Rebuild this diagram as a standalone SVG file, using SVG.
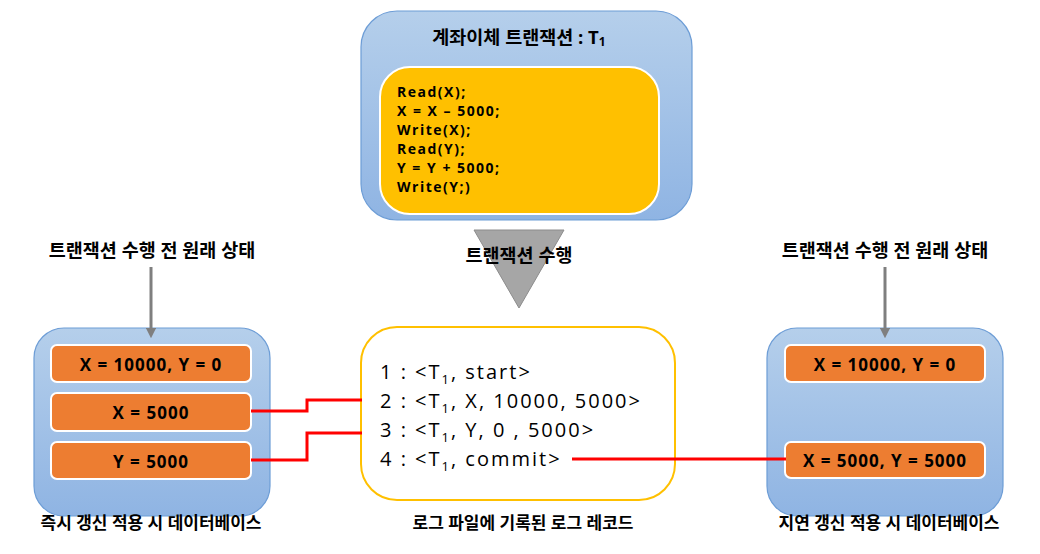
<svg xmlns="http://www.w3.org/2000/svg" width="1040" height="554" viewBox="0 0 1040 554">
<defs>
<linearGradient id="blue" x1="0" y1="0" x2="0" y2="1">
<stop offset="0" stop-color="#b5cfeb"/>
<stop offset="1" stop-color="#8fb4e3"/>
</linearGradient>
<marker id="arr" viewBox="0 0 10 10" refX="5" refY="5" markerWidth="3.5" markerHeight="3.5" orient="auto">
<path d="M0,0 L10,5 L0,10 Z" fill="#7f7f7f"/>
</marker>
</defs>
<style>
.blue{fill:url(#blue);stroke:#6d9dd6;stroke-width:1.2}
.orange{fill:#ed7d31;stroke:#ffffff;stroke-width:2}
.lbl{font-family:"Open Sans","Noto Sans CJK KR",sans-serif;font-weight:bold;font-size:18.5px;fill:#000;text-anchor:middle;dominant-baseline:central}
.bot{font-size:17px}
.val{font-family:"Open Sans","Noto Sans CJK KR",sans-serif;font-weight:bold;font-size:17px;letter-spacing:1px;fill:#000;text-anchor:middle;dominant-baseline:central}
.code{font-family:"Open Sans","Noto Sans CJK KR",sans-serif;font-weight:bold;font-size:14px;letter-spacing:1.5px;fill:#000}
.log{font-family:"Open Sans","Noto Sans CJK KR",sans-serif;font-size:20px;letter-spacing:2px;fill:#000}
.red{fill:none;stroke:#ff0000;stroke-width:3}
.gray{fill:none;stroke:#7f7f7f;stroke-width:3}
</style>

<g id="transaction">
<rect class="blue" x="361" y="11" width="331" height="209" rx="36"/>
<text class="lbl" x="519" y="36" font-size="18">계좌이체 트랜잭션 : T<tspan font-size="12" dy="5">1</tspan></text>
<rect x="380" y="67" width="279" height="147" rx="30" fill="#ffc000" stroke="#ffffff" stroke-width="2"/>
<text class="code" x="397" y="97">Read(X);</text>
<text class="code" x="397" y="116">X = X – 5000;</text>
<text class="code" x="397" y="135">Write(X);</text>
<text class="code" x="397" y="154">Read(Y);</text>
<text class="code" x="397" y="173">Y = Y + 5000;</text>
<text class="code" x="397" y="192">Write(Y;)</text>
</g>

<g id="execute">
<polygon points="474,230 564,230 519,308" fill="#a6a6a6" stroke="#8c8c8c" stroke-width="1"/>
<text class="lbl" x="519" y="254" font-size="17.5">트랜잭션 수행</text>
</g>

<g id="label-left">
<text class="lbl" x="152" y="249">트랜잭션 수행 전 원래 상태</text>
</g>
<g id="label-right">
<text class="lbl" x="885" y="249">트랜잭션 수행 전 원래 상태</text>
</g>

<g id="db-immediate">
<rect class="blue" x="34" y="328" width="236" height="188" rx="30"/>
<rect class="orange" x="51" y="345" width="200" height="37" rx="6"/>
<text class="val" x="151" y="364">X = 10000, Y = 0</text>
<rect class="orange" x="51" y="393" width="200" height="38" rx="6"/>
<text class="val" x="151" y="412">X = 5000</text>
<rect class="orange" x="51" y="442" width="200" height="37" rx="6"/>
<text class="val" x="151" y="461">Y = 5000</text>
<text class="lbl bot" x="151" y="522">즉시 갱신 적용 시 데이터베이스</text>
</g>

<g id="log">
<rect x="361" y="327" width="314" height="173" rx="36" fill="#ffffff" stroke="#ffc000" stroke-width="2"/>
<text class="log" x="380" y="379">1 : &lt;T<tspan font-size="13" dy="5">1</tspan><tspan dy="-5">, start&gt;</tspan></text>
<text class="log" x="380" y="408">2 : &lt;T<tspan font-size="13" dy="5">1</tspan><tspan dy="-5">, X, 10000, 5000&gt;</tspan></text>
<text class="log" x="380" y="437">3 : &lt;T<tspan font-size="13" dy="5">1</tspan><tspan dy="-5">, Y, 0 , 5000&gt;</tspan></text>
<text class="log" x="380" y="466">4 : &lt;T<tspan font-size="13" dy="5">1</tspan><tspan dy="-5">, commit&gt;</tspan></text>
<text class="lbl bot" x="523" y="522">로그 파일에 기록된 로그 레코드</text>
</g>

<g id="db-deferred">
<rect class="blue" x="767" y="328" width="236" height="188" rx="30"/>
<rect class="orange" x="785" y="345" width="200" height="37" rx="6"/>
<text class="val" x="885" y="364">X = 10000, Y = 0</text>
<rect class="orange" x="785" y="442" width="200" height="36" rx="6"/>
<text class="val" x="885" y="460">X = 5000, Y = 5000</text>
<text class="lbl bot" x="889" y="522">지연 갱신 적용 시 데이터베이스</text>
</g>

<g id="connectors">
<line class="gray" x1="151" y1="267" x2="151" y2="333" marker-end="url(#arr)"/>
<line class="gray" x1="885" y1="267" x2="885" y2="333" marker-end="url(#arr)"/>
<polyline class="red" points="251,411 307,411 307,400 362,400"/>
<polyline class="red" points="251,460 307,460 307,433 362,433"/>
<line class="red" x1="572" y1="459" x2="786" y2="459"/>
</g>
</svg>
